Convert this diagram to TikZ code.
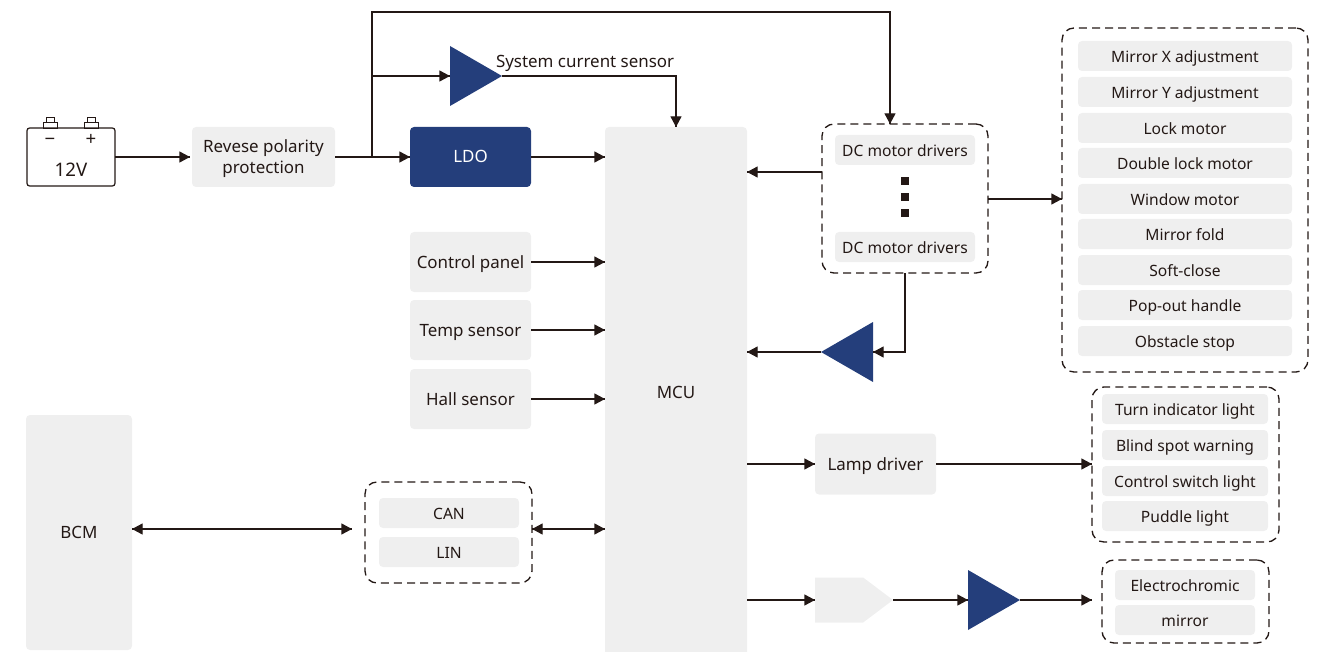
\documentclass[tikz,border=0pt]{standalone}
\usepackage{fontspec}
\setmainfont{Noto Sans}
\usetikzlibrary{calc,arrows.meta,shapes.geometric,shapes.symbols,
                 decorations.markings}
\definecolor{linecol}{HTML}{231815}
\definecolor{boxgray}{HTML}{EFEFEF}
\definecolor{ampblue}{HTML}{243E7B}
\def\px{0.75pt}
\tikzset{->/.style = {decoration={markings, mark=at position 1 with {\arrow{Triangle[length=8pt,width=8.25pt]}}}, postaction={decorate}}}
\tikzset{<->/.style = {decoration={markings, mark=at position 0 with {\arrowreversed{Triangle[length=8pt,width=8.25pt]}}, mark=at position 1 with {\arrow{Triangle[length=8pt,width=8.25pt]}}}, postaction={decorate}}}
\tikzset{plaintext/.style = {text=linecol, inner sep=0, outer sep=0, text height=9pt, text depth=0pt, font=\fontsize{12.7}{16}\selectfont}}
\tikzset{box/.style = {plaintext, fill=boxgray, rounded corners=3pt, align=center}}
\tikzset{panel/.style = {box, minimum width=121*\px, minimum height=60*\px}}
\tikzset{item/.style = {box, minimum height=30*\px, text height=9.8pt, font=\fontsize{11.7}{14}\selectfont}}
\tikzset{dashbox/.style = {draw=linecol, line width=1pt, dash pattern=on 6pt off 3.8pt, rounded corners=9pt, inner sep=0, outer sep=0}}
\tikzset{amp/.style = {fill=ampblue, isosceles triangle, isosceles triangle stretches, inner sep=0, outer sep=0, minimum width=60*\px, minimum height=52*\px}}
\tikzset{dotmark/.style = {fill=linecol, inner sep=0, minimum size=8*\px}}
\tikzset{wire/.style = {draw=linecol, line width=1pt}}

\begin{document}
\begin{tikzpicture}[x=0.75pt, y=-0.75pt]
	\useasboundingbox (0,0) rectangle (1319,652);
	% battery
	\node [draw=linecol, line width=0.9pt, rounded corners=2pt, minimum width=88*\px, minimum height=58*\px, inner sep=0, outer sep=0] (bat) at (71,157) {};
	\node [draw=linecol, line width=0.7pt, inner sep=0, minimum width=14*\px, minimum height=6*\px] (negbase) at (50,125) {};
	\node [draw=linecol, line width=0.7pt, inner sep=0, minimum width=8*\px, minimum height=5*\px] (negtop) at (50,119.5) {};
	\node [draw=linecol, line width=0.7pt, inner sep=0, minimum width=14*\px, minimum height=6*\px] (posbase) at (91,125) {};
	\node [draw=linecol, line width=0.7pt, inner sep=0, minimum width=8*\px, minimum height=5*\px] (postop) at (91,119.5) {};
	\node [plaintext, text height=10pt, font=\fontsize{14}{16}\selectfont] (negsign) at (50,139) {−};
	\node [plaintext, text height=10pt, font=\fontsize{14}{16}\selectfont] (possign) at (91,139) {+};
	\node [plaintext, text height=10pt, font=\fontsize{14}{16}\selectfont] (batv) at (71,170) {12V};

	\node [box, minimum width=143*\px, minimum height=60*\px, text height=25pt] (rev) at (263.5,157) {Revese polarity\\protection};
	\node [panel, fill=ampblue, text=white] (ldo) at (470.5,157) {LDO};
	\node [amp, anchor=lower side] (curamp) at (450,76) {};
	\node [plaintext, anchor=west] (curlabel) at (496,62) {System current sensor};
	\node [box, minimum width=142*\px, minimum height=530*\px] (mcu) at (676,392) {MCU};

	\node [panel] (ctrl) at (470.5,262) {Control panel};
	\node [panel] (temp) at (470.5,330) {Temp sensor};
	\node [panel] (hall) at (470.5,399) {Hall sensor};

	\node [box, minimum width=106*\px, minimum height=235*\px] (bcm) at (79,532.5) {BCM};
	\node [dashbox, minimum width=167*\px, minimum height=101*\px] (bus) at (448.5,532.5) {};
	\node [item, minimum width=140*\px] (can) at (449,513) {CAN};
	\node [item, minimum width=140*\px] (lin) at (449,552) {LIN};

	\node [dashbox, minimum width=166*\px, minimum height=149*\px] (drv) at (905,198.5) {};
	\node [item, minimum width=140*\px] (drvone) at (905,150) {DC motor drivers};
	\node [dotmark] (dotone) at (904.5,181) {};
	\node [dotmark] (dottwo) at (904.5,197) {};
	\node [dotmark] (dotthree) at (904.5,213) {};
	\node [item, minimum width=140*\px] (drvtwo) at (905,247) {DC motor drivers};
	\node [amp, shape border rotate=180, anchor=lower side] (fbamp) at (873,352) {};

	\node [dashbox, minimum width=246*\px, minimum height=344*\px] (loads) at (1185,200) {};
	\node [item, minimum width=214*\px] (mirx) at (1185,56) {Mirror X adjustment};
	\node [item, minimum width=214*\px] (miry) at (1185,92) {Mirror Y adjustment};
	\node [item, minimum width=214*\px] (lock) at (1185,128) {Lock motor};
	\node [item, minimum width=214*\px] (dlock) at (1185,163) {Double lock motor};
	\node [item, minimum width=214*\px] (window) at (1185,199) {Window motor};
	\node [item, minimum width=214*\px] (fold) at (1185,234) {Mirror fold};
	\node [item, minimum width=214*\px] (soft) at (1185,270) {Soft-close};
	\node [item, minimum width=214*\px] (popout) at (1185,305) {Pop-out handle};
	\node [item, minimum width=214*\px] (obstacle) at (1185,341) {Obstacle stop};

	\node [panel, minimum height=61*\px] (lamp) at (875.5,464) {Lamp driver};
	\node [dashbox, minimum width=187*\px, minimum height=155*\px] (lights) at (1185.5,464.5) {};
	\node [item, minimum width=166*\px] (turn) at (1185,409) {Turn indicator light};
	\node [item, minimum width=166*\px] (blind) at (1185,445) {Blind spot warning};
	\node [item, minimum width=166*\px] (switch) at (1185,481) {Control switch light};
	\node [item, minimum width=166*\px] (puddle) at (1185,516) {Puddle light};

	\node [fill=boxgray, signal, signal to=east, signal pointer angle=74, inner sep=0, outer sep=0, minimum width=78*\px, minimum height=45*\px, anchor=west] (conv) at (815,600) {};
	\node [amp, anchor=lower side] (ecamp) at (968,600) {};
	\node [dashbox, minimum width=167*\px, minimum height=83*\px] (ecbox) at (1185.5,601.5) {};
	\node [item, minimum width=140*\px] (econe) at (1185,585) {Electrochromic};
	\node [item, minimum width=140*\px] (ectwo) at (1185,620) {mirror};

	% free ends of the wires
	\coordinate (jct) at (372,157);
	\coordinate (bendl) at (372,12);
	\coordinate (bendr) at (890,12);
	\coordinate (drvin) at (890,124);
	\coordinate (curin) at (372,76);
	\coordinate (curbend) at (676,76);
	\coordinate (drvfb) at (905,273);
	\coordinate (fbbend) at (905,352);
	\coordinate (busleft) at (352,529);
	\coordinate (busright) at (532,529);
	\coordinate (bcmright) at (132,529);
	\coordinate (mcubus) at (605,529);
	\coordinate (lightsin) at (1092,464);
	\coordinate (ecin) at (1092,600);

	\draw [wire, ->] (bat.east) -- (190,157);
	\draw [wire, ->] (rev.east) -- (rev.east -| ldo.west);
	\draw [wire, ->] (jct) -- (bendl) -- (bendr) -- (drvin);
	\draw [wire, ->] (curin) -- (curamp.lower side);
	\draw [wire, ->] (curamp.apex) -- (curbend) -- (mcu.north);
	\draw [wire, ->] (ldo.east) -- (mcu.west |- ldo.east);
	\draw [wire, ->] (ctrl.east) -- (mcu.west |- ctrl.east);
	\draw [wire, ->] (temp.east) -- (mcu.west |- temp.east);
	\draw [wire, ->] (hall.east) -- (mcu.west |- hall.east);
	\draw [wire, ->] (drv.west |- 0,172) -- (mcu.east |- 0,172);
	\draw [wire, ->] (drv.east |- window) -- (loads.west |- window);
	\draw [wire, ->] (drvfb) -- (fbbend) -- (fbamp.lower side);
	\draw [wire, ->] (fbamp.apex) -- (mcu.east |- fbamp.apex);
	\draw [wire, <->] (bcmright) -- (busleft);
	\draw [wire, <->] (busright) -- (mcubus);
	\draw [wire, ->] (mcu.east |- lamp) -- (lamp.west);
	\draw [wire, ->] (lamp.east) -- (lightsin);
	\draw [wire, ->] (mcu.east |- conv.west) -- (conv.west);
	\draw [wire, ->] (conv.east) -- (ecamp.lower side);
	\draw [wire, ->] (ecamp.apex) -- (ecin);
\end{tikzpicture}
\end{document}
